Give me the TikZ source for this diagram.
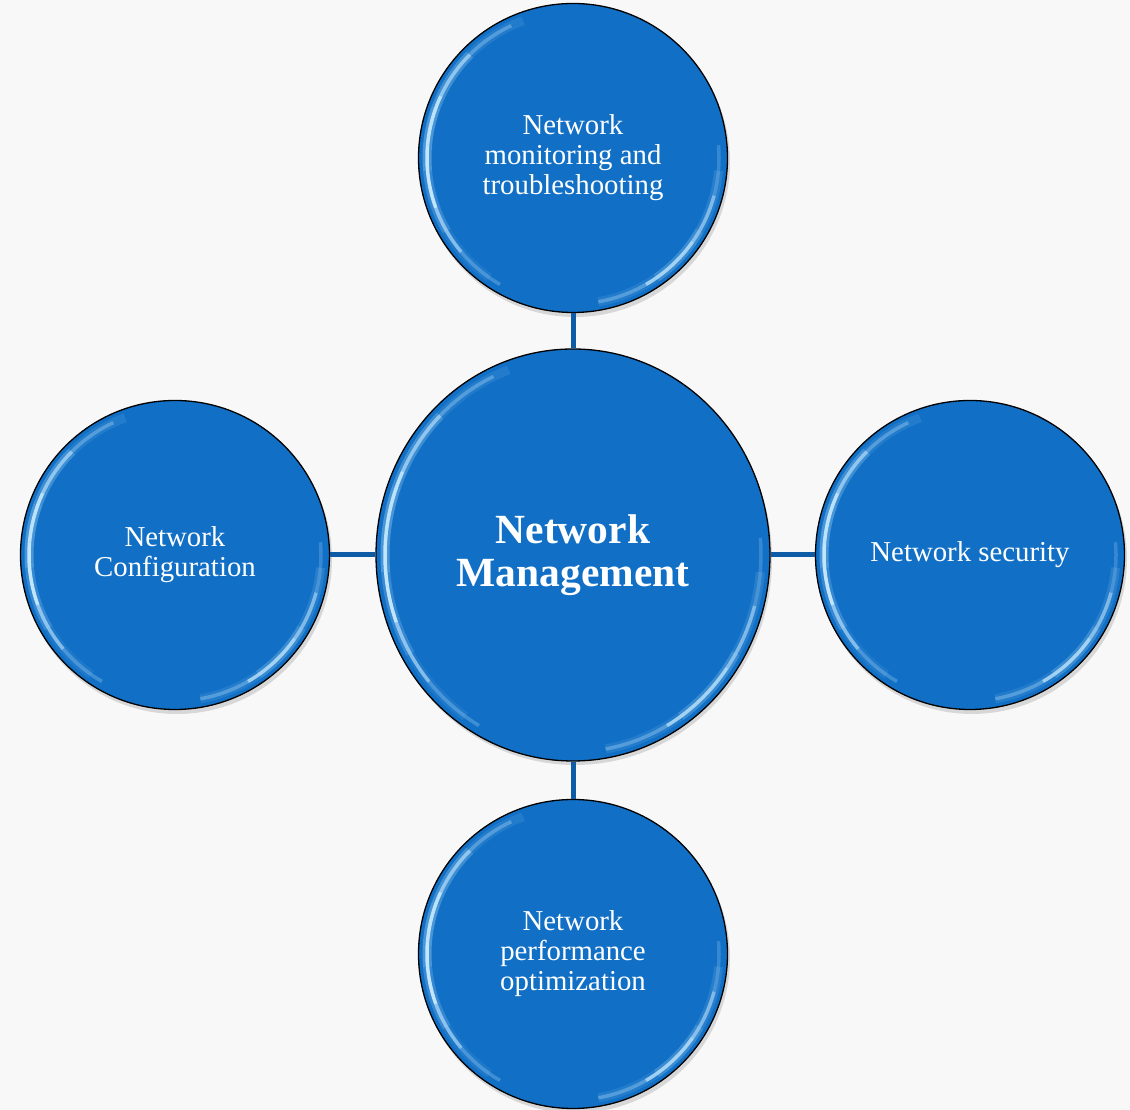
\documentclass[tikz,border=0pt]{standalone}
\usepackage{fontspec}
\setmainfont{Liberation Serif}
\usetikzlibrary{shapes.geometric,calc}
\definecolor{bg}{HTML}{F8F8F8}
\definecolor{ballblue}{HTML}{1170C6}
\definecolor{linkblue}{HTML}{0F5CA6}
\definecolor{glint}{HTML}{C8EBFF}
\tikzset{
  ball/.style={circle, fill=ballblue, draw=black, line width=1.3pt, minimum size=309pt,
    inner sep=0pt, text=white, align=center, font=\fontsize{28.8}{30}\selectfont},
  hub/.style={ellipse, fill=ballblue, draw=black, line width=1.3pt, minimum width=394pt,
    minimum height=412pt, inner sep=0pt, text=white, align=center,
    font=\bfseries\fontsize{41.5}{43}\selectfont},
  link/.style={draw=linkblue, line width=5pt},
  glintline/.style={draw=glint, line width=3.5pt},
  glintwide/.style={draw=glint, line width=9pt},
  shade/.style={fill=black, opacity=0.13}
}
\newcommand\glint[3]{%
  \foreach \a/\b/\o in {110/135/0.1,135/160/0.25,160/185/0.3,185/210/0.2,210/235/0.08,
    -80/-55/0.1,-55/-30/0.22,-30/-5/0.12}{
    \draw[glintwide, draw opacity=\o] ($(#1)+(\a:#2 and #3)$) arc[start angle=\a, end angle=\b, x radius=#2, y radius=#3];
  }
  \foreach \a/\b/\o in {115/135/0.3,135/155/0.6,155/175/0.9,175/200/0.95,200/220/0.6,220/240/0.25,
    -80/-60/0.3,-60/-35/0.75,-35/-15/0.55,-15/5/0.2}{
    \draw[glintline, draw opacity=\o] ($(#1)+(\a:#2 and #3)$) arc[start angle=\a, end angle=\b, x radius=#2, y radius=#3];
  }}
\begin{document}
\begin{tikzpicture}[x=1pt,y=1pt]
  \fill[bg] (0,0) rectangle (1130,1110);
  \useasboundingbox (0,0) rectangle (1130,1110);
  % shadows
  \fill[shade] (575,948) circle (155);
  \fill[shade] (177,551) circle (155);
  \fill[shade] (972,551) circle (155);
  \fill[shade] (575,152) circle (155);
  \fill[shade] (575,551) ellipse (197 and 206);
  % nodes
  \node[hub] (hub) at (573,555) {Network\\Management};
  \node[ball] (top) at (573,952) {Network\\monitoring and\\troubleshooting};
  \node[ball] (left) at (175,555) {Network\\Configuration};
  \node[ball] (right) at (970,555) {Network security};
  \node[ball] (bottom) at (573,156) {Network\\performance\\optimization};
  % connectors
  \draw[link] (top.south) -- (hub.north);
  \draw[link] (left.east) -- (hub.west);
  \draw[link] (hub.east) -- (right.west);
  \draw[link] (hub.south) -- (bottom.north);
  % highlights
  \glint{hub.center}{188}{197}
  \glint{top.center}{146}{146}
  \glint{left.center}{146}{146}
  \glint{right.center}{146}{146}
  \glint{bottom.center}{146}{146}
\end{tikzpicture}
\end{document}
